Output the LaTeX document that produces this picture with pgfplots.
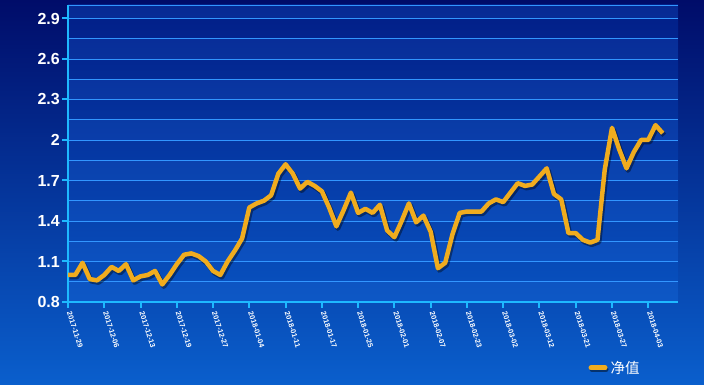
\documentclass[border=0pt]{standalone}
\usepackage{pgfplots}
\pgfplotsset{compat=1.18}
\usepackage{fontspec}
\setmainfont{Liberation Sans}
\newfontfamily\cjk{Noto Sans CJK SC}
\definecolor{bgtop}{RGB}{0,12,105}
\definecolor{bgbot}{RGB}{10,95,205}
\definecolor{patop}{RGB}{2,30,135}
\definecolor{pabot}{RGB}{8,82,192}
\definecolor{gridc}{RGB}{50,150,255}
\definecolor{axc}{RGB}{30,185,255}
\definecolor{gold}{RGB}{240,172,30}
\definecolor{bandc}{RGB}{60,140,255}
\pgfplotstableread{
i v
0 1.00
1 1.00
2 1.09
3 0.97
4 0.96
5 1.00
6 1.06
7 1.03
8 1.08
9 0.96
10 0.99
11 1.00
12 1.03
13 0.93
14 1.00
15 1.08
16 1.15
17 1.16
18 1.14
19 1.10
20 1.03
21 1.00
22 1.10
23 1.18
24 1.27
25 1.50
26 1.53
27 1.55
28 1.59
29 1.75
30 1.82
31 1.75
32 1.64
33 1.69
34 1.66
35 1.62
36 1.50
37 1.36
38 1.48
39 1.61
40 1.46
41 1.49
42 1.46
43 1.52
44 1.33
45 1.28
46 1.40
47 1.53
48 1.39
49 1.44
50 1.32
51 1.05
52 1.09
53 1.30
54 1.46
55 1.47
56 1.47
57 1.47
58 1.53
59 1.56
60 1.54
61 1.61
62 1.68
63 1.66
64 1.67
65 1.73
66 1.79
67 1.60
68 1.56
69 1.31
70 1.31
71 1.26
72 1.24
73 1.26
74 1.78
75 2.09
76 1.93
77 1.79
78 1.91
79 2.00
80 2.00
81 2.11
82 2.05
}\nav
\begin{document}
\begin{tikzpicture}[x=1pt,y=1pt]
\shade[top color=bgtop, bottom color=bgbot] (0,0) rectangle (704,385);
\useasboundingbox (0,0) rectangle (704,385);
\shade[top color=patop, bottom color=pabot] (68,83) rectangle (678,380);
\foreach \k in {0,...,6} {
  \fill[bandc, opacity=0.10] (68,{83+40.5*\k}) rectangle (678,{103.25+40.5*\k});
}
\fill[bandc, opacity=0.10] (68,366.5) rectangle (678,380);
\draw[gridc, line width=0.9pt] (68,380) -- (678,380);
\begin{axis}[
  at={(68pt,83pt)}, anchor=south west, scale only axis,
  width=610pt, height=297pt,
  xmin=0, xmax=84.1, ymin=0.8, ymax=3.0,
  axis x line*=bottom, axis y line*=left,
  axis line style={axc, line width=2.2pt, -},
  xtick={0,5,...,80},
  xticklabels={2017-11-29,2017-12-06,2017-12-13,2017-12-19,2017-12-27,2018-01-04,2018-01-11,2018-01-17,2018-01-25,2018-02-01,2018-02-07,2018-02-23,2018-03-02,2018-03-12,2018-03-21,2018-03-27,2018-04-03},
  ytick={0.8,1.1,...,2.95},
  yticklabels={0.8,1.1,1.4,1.7,2,2.3,2.6,2.9},
  minor ytick={0.95,1.25,...,2.8},
  ymajorgrids, yminorgrids,
  major grid style={gridc, line width=0.9pt},
  minor grid style={gridc, line width=0.9pt},
  tick align=outside,
  major tick length=6pt, minor tick length=0pt,
  tick style={axc, line width=2pt},
  xticklabel style={rotate=-72, anchor=west, font=\bfseries\fontsize{7.3}{7.3}\selectfont, text=white, inner sep=1pt, xshift=3pt},
  yticklabel style={font=\bfseries\fontsize{16}{16}\selectfont, text=white, inner sep=2pt},
  /pgf/number format/assume math mode=true,
  clip=false,
  legend style={draw=none, fill=none, text=white, font=\cjk\fontsize{14.5}{14.5}\selectfont,
    at={(0.853,-0.222)}, anchor=west, inner sep=0pt},
  legend image code/.code={
    \draw[black, opacity=0.45, line width=5pt, line cap=round] (1pt,-1.5pt) -- (15pt,-1.5pt);
    \draw[gold, line width=5pt, line cap=round] (0pt,0pt) -- (14pt,0pt);
  },
]
\addplot[black, opacity=0.4, line width=5pt, line join=round, xshift=1.5pt, yshift=-2pt, forget plot] table[x=i, y=v] {\nav};
\addplot[gold, line width=4.5pt, line join=round] table[x=i, y=v] {\nav};
\addlegendentry{净值}
\end{axis}
\end{tikzpicture}
\end{document}
